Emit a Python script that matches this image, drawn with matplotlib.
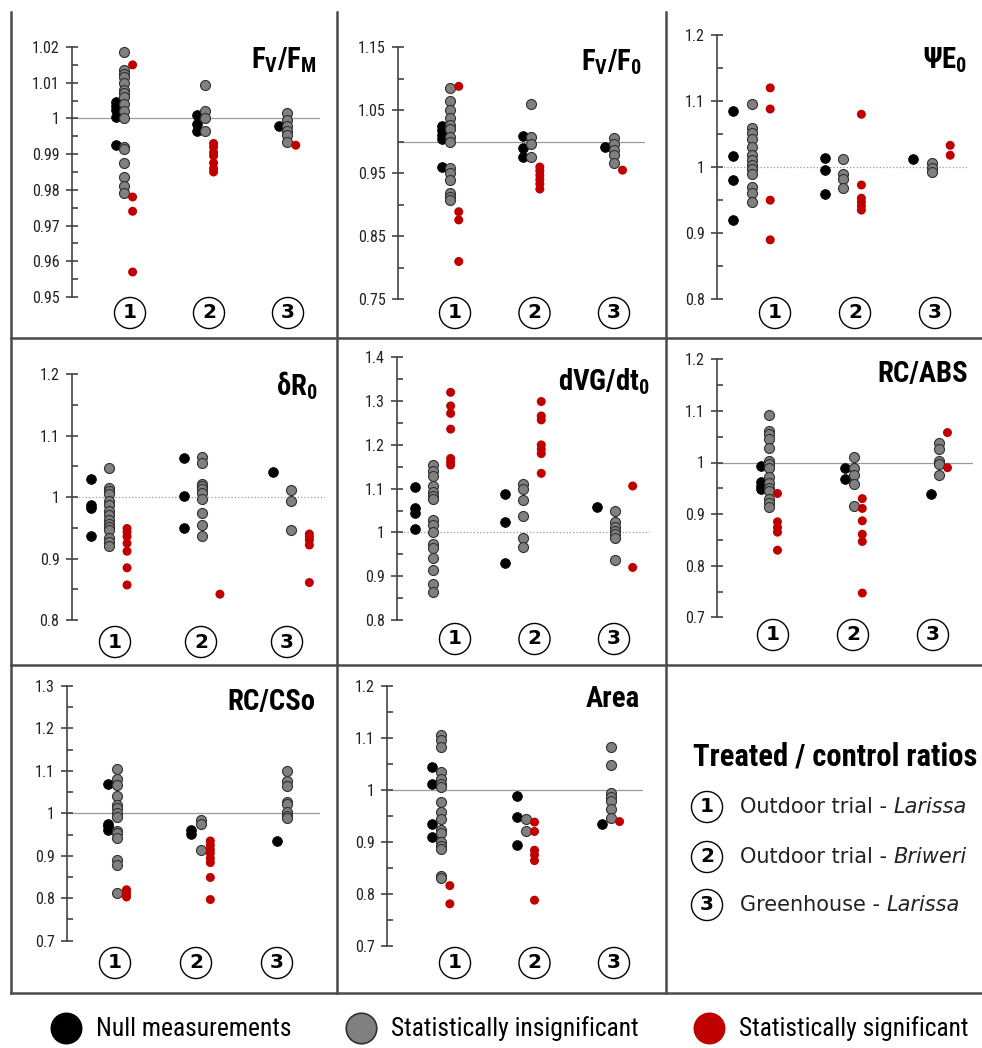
import matplotlib
matplotlib.use("Agg")
import matplotlib.pyplot as plt
import matplotlib.font_manager as fm
import matplotlib.transforms as mtransforms
from matplotlib.lines import Line2D
from matplotlib.text import Annotation
import numpy as np

W, H = 982, 1048

sites = ["1", "2", "3"]
site_names = ["Outdoor trial - ", "Outdoor trial - ", "Greenhouse - "]
site_places = ["Larissa", "Briweri", "Larissa"]
classes = ["Null measurements", "Statistically insignificant", "Statistically significant"]

# values per site: [site1, site2, site3]
fvfm_null = [[1.0045, 1.0035, 1.0025, 1.0005, 0.9925], [1.001, 0.9985, 0.9965], [0.998]]
fvfm_insig = [[1.0185, 1.0135, 1.0125, 1.0115, 1.01, 1.008, 1.007, 1.006, 1.004, 1.002, 1.0,
               0.992, 0.9915, 0.9875, 0.9835, 0.981, 0.979],
              [1.0095, 1.002, 1.0, 0.9965], [1.0015, 0.9995, 0.998, 0.9965, 0.9955, 0.9935]]
fvfm_sig = [[1.015, 0.978, 0.974, 0.957], [0.993, 0.992, 0.9905, 0.9895, 0.9875, 0.986, 0.985], [0.9925]]

fvfo_null = [[1.025, 1.018, 1.011, 1.005, 0.96], [1.009, 0.99, 0.976], [0.991]]
fvfo_insig = [[1.085, 1.065, 1.05, 1.038, 1.027, 1.02, 1.008, 0.999, 0.958, 0.951, 0.94, 0.919, 0.913, 0.908],
              [1.06, 1.008, 0.996, 0.976], [1.0065, 0.9965, 0.987, 0.979, 0.967]]
fvfo_sig = [[1.088, 0.889, 0.876, 0.81], [0.96, 0.954, 0.947, 0.94, 0.933, 0.925], [0.955]]

psie_null = [[1.085, 1.017, 0.98, 0.92], [1.014, 0.996, 0.959], [1.012]]
psie_insig = [[1.095, 1.06, 1.052, 1.042, 1.031, 1.018, 1.011, 1.003, 0.997, 0.99, 0.97, 0.961, 0.948],
              [1.012, 0.99, 0.982, 0.968], [1.006, 0.998, 0.992]]
psie_sig = [[1.12, 1.088, 0.95, 0.89], [1.08, 0.973, 0.953, 0.947, 0.941, 0.935], [1.033, 1.018]]

dr_null = [[1.03, 0.988, 0.982, 0.936], [1.064, 1.002, 0.949], [1.041]]
dr_insig = [[1.048, 1.015, 1.01, 1.005, 0.993, 0.987, 0.977, 0.971, 0.963, 0.957, 0.952, 0.947, 0.934, 0.927, 0.921],
            [1.066, 1.055, 1.022, 1.018, 1.013, 1.006, 0.997, 0.974, 0.955, 0.937], [1.011, 0.993, 0.946]]
dr_sig = [[0.949, 0.943, 0.936, 0.925, 0.912, 0.885, 0.857], [0.842], [0.94, 0.935, 0.93, 0.922, 0.861]]

dvg_null = [[1.103, 1.055, 1.045, 1.008], [1.088, 1.023, 0.931], [1.059]]
dvg_insig = [[1.155, 1.14, 1.13, 1.105, 1.093, 1.084, 1.077, 1.028, 1.018, 1.002, 0.973, 0.964, 0.942, 0.914,
              0.883, 0.865],
             [1.11, 1.1, 1.073, 1.037, 0.988, 0.967], [1.049, 1.023, 1.013, 1.003, 0.996, 0.987, 0.936]]
dvg_sig = [[1.32, 1.289, 1.272, 1.236, 1.169, 1.161, 1.154], [1.299, 1.266, 1.257, 1.2, 1.19, 1.18, 1.135],
           [1.106, 0.92]]

rcabs_null = [[0.993, 0.962, 0.955, 0.949], [0.99, 0.968], [0.939]]
rcabs_insig = [[1.093, 1.061, 1.055, 1.045, 1.029, 1.003, 0.997, 0.989, 0.971, 0.96, 0.951, 0.944, 0.929, 0.921, 0.914],
               [1.011, 0.989, 0.976, 0.958, 0.916], [1.037, 1.026, 1.003, 0.997, 0.975]]
rcabs_sig = [[0.94, 0.885, 0.874, 0.865, 0.83], [0.93, 0.911, 0.887, 0.861, 0.847, 0.747], [1.058, 0.99]]

rccs_null = [[1.068, 0.976, 0.97, 0.961], [0.961, 0.951], [0.935]]
rccs_insig = [[1.104, 1.08, 1.067, 1.041, 1.02, 1.012, 1.002, 0.992, 0.958, 0.953, 0.941, 0.89, 0.878, 0.813],
              [0.984, 0.976, 0.914], [1.1, 1.077, 1.064, 1.027, 1.022, 1.004, 0.994, 0.988]]
rccs_sig = [[0.82, 0.814, 0.808, 0.803], [0.935, 0.925, 0.915, 0.906, 0.894, 0.884, 0.849, 0.797], []]

area_null = [[1.044, 1.012, 0.934, 0.909], [0.988, 0.948, 0.894], [0.934]]
area_insig = [[1.105, 1.096, 1.082, 1.035, 1.02, 1.012, 1.006, 0.977, 0.958, 0.944, 0.923, 0.918, 0.9, 0.892,
               0.886, 0.834, 0.83],
              [0.943, 0.92], [1.082, 1.048, 0.993, 0.987, 0.979, 0.964, 0.945]]
area_sig = [[0.816, 0.781], [0.938, 0.92, 0.884, 0.875, 0.864, 0.788], [0.939]]

# pick a narrow font if there is one
names = {f.name for f in fm.fontManager.ttflist}
narrow, scale = "DejaVu Sans", 0.75
for cand, sc in [("Liberation Sans Narrow", 1.0), ("Roboto Condensed", 0.92)]:
    if cand in names:
        narrow, scale = cand, sc
        break

plt.rcParams["mathtext.fontset"] = "custom"
plt.rcParams["mathtext.rm"] = narrow
plt.rcParams["mathtext.bf"] = narrow + ":bold"
plt.rcParams["mathtext.it"] = narrow + ":italic"

# layout in pixels: spine x, right end, y px of top / bottom limit, label x of site 1 / 3, label y,
# column shift per site, column spread, title anchor
panels = [
    dict(title=r"$\mathbf{F_V/F_M}$", data=(fvfm_null, fvfm_insig, fvfm_sig), lim=(0.95, 1.02, 0.01), ls="-",
         px=(72, 320, 47, 297), lab=(130, 288, 313), shift=(-0.075, -0.05, -0.01), spread=0.108, tpos=(317, 68)),
    dict(title=r"$\mathbf{F_V/F_0}$", data=(fvfo_null, fvfo_insig, fvfo_sig), lim=(0.75, 1.15, 0.1), ls="-",
         px=(398, 645, 47.3, 299.3), lab=(455, 614, 313), shift=(-0.06, -0.04, 0.0), spread=0.107, tpos=(642, 70)),
    dict(title=r"$\mathbf{\Psi E_0}$", data=(psie_null, psie_insig, psie_sig), lim=(0.8, 1.2, 0.1), ls=":",
         px=(717, 968, 35, 299.3), lab=(775, 935, 313), shift=(-0.29, -0.15, -0.04), spread=0.23, tpos=(967, 68)),
    dict(title=r"$\mathbf{\delta R_0}$", data=(dr_null, dr_insig, dr_sig), lim=(0.8, 1.2, 0.1), ls=":",
         px=(72, 325, 374.3, 620), lab=(115, 287, 642), shift=(-0.07, 0.01, 0.05), spread=0.21, tpos=(318, 395)),
    dict(title=r"$\mathbf{dVG/dt_0}$", data=(dvg_null, dvg_insig, dvg_sig), lim=(0.8, 1.4, 0.1), ls=":",
         px=(397, 650, 357.3, 620), lab=(455, 614, 639), shift=(-0.28, -0.14, 0.01), spread=0.225, tpos=(650, 390)),
    dict(title="RC/ABS", data=(rcabs_null, rcabs_insig, rcabs_sig), lim=(0.7, 1.2, 0.1), ls="-",
         px=(717, 973, 359.3, 617.3), lab=(773, 933, 635), shift=(-0.05, 0.01, 0.075), spread=0.106, tpos=(968, 382)),
    dict(title="RC/CSo", data=(rccs_null, rccs_insig, rccs_sig), lim=(0.7, 1.3, 0.1), ls="-",
         px=(67, 320, 686, 940.7), lab=(115, 277, 963), shift=(0.025, 0.06, 0.12), spread=0.117, tpos=(315, 710)),
    dict(title="Area", data=(area_null, area_insig, area_sig), lim=(0.7, 1.2, 0.1), ls="-",
         px=(387, 643, 685.7, 946), lab=(455, 614, 963), shift=(-0.175, -0.11, -0.04), spread=0.11, tpos=(640, 707)),
]

styles = [
    dict(s=50, c="black", edgecolors="black", linewidths=0.5),
    dict(s=52, c="#808080", edgecolors="#303030", linewidths=0.8),
    dict(s=42, c="#c00000", edgecolors="none"),
]
circle_box = dict(boxstyle="circle,pad=0.3", fc="white", ec="black", lw=1.0)

fig = plt.figure(figsize=(W / 100, H / 100), dpi=100)
fig.patch.set_facecolor("white")

for p in panels:
    sx, rx, ty, by = p["px"]
    l1, l3, ly = p["lab"]
    ax = fig.add_axes([sx / W, 1 - by / H, (rx - sx) / W, (by - ty) / H])
    unit = (l3 - l1) / 2
    ax.set_xlim(1 - (l1 - sx) / unit, 3 + (rx - l3) / unit)
    ymin, ymax, step = p["lim"]
    ax.set_ylim(ymin, ymax)
    n = int(round((ymax - ymin) / step))
    major = [round(ymin + i * step, 3) for i in range(n + 1)]
    minor = [round(ymin + (i + 0.5) * step, 4) for i in range(n)]
    ax.set_yticks(major)
    ax.set_yticks(minor, minor=True)
    ax.set_yticklabels([f"{v:g}" for v in major])
    ax.set_xticks([])
    for side in ["top", "right", "bottom"]:
        ax.spines[side].set_visible(False)
    ax.spines["left"].set_color("#444444")
    ax.spines["left"].set_linewidth(1.2)
    ax.tick_params(axis="y", which="major", direction="inout", length=8, width=1.2, color="#444444",
                   labelsize=12.5 * scale, labelcolor="#222222", pad=5)
    ax.tick_params(axis="y", which="minor", direction="in", length=4, width=1.2, color="#444444")
    for lab in ax.get_yticklabels():
        lab.set_fontfamily(narrow)
    ax.patch.set_visible(False)

    ax.axhline(1, color="#9a9a9a", lw=0.9, ls=p["ls"], zorder=1)

    for k, (vals, st) in enumerate(zip(p["data"], styles)):
        for i, v in enumerate(vals):
            if len(v) == 0:
                continue
            x = np.full(len(v), i + 1 + p["shift"][i] + (k - 1) * p["spread"])
            ax.scatter(x, v, zorder=3 + k, clip_on=False, **st)

    tr = mtransforms.blended_transform_factory(ax.transData, fig.transFigure)
    for i, s in enumerate(sites):
        ax.text(i + 1, 1 - ly / H, s, transform=tr, ha="center", va="center", fontsize=14.5,
                fontweight="bold", bbox=circle_box)

    tx, tyy = p["tpos"]
    fig.text(tx / W, 1 - tyy / H, p["title"], ha="right", va="baseline", fontsize=22.5 * scale,
             fontweight="bold", family=narrow)

# panel frames
for x in [11, 337, 666]:
    fig.add_artist(Line2D([x / W, x / W], [1 - 12 / H, 1 - 993 / H], color="#4a4a4a", lw=1.8))
for y in [338, 665, 993]:
    fig.add_artist(Line2D([11 / W, 1], [1 - y / H, 1 - y / H], color="#4a4a4a", lw=1.8))

# site key in the empty panel
fig.text(693 / W, 1 - 766 / H, "Treated / control ratios", fontsize=24 * scale, fontweight="bold",
         family=narrow, va="baseline")
for i, yy in enumerate([807, 857, 905]):
    fig.text(707 / W, 1 - yy / H, sites[i], ha="center", va="center", fontsize=14.5, fontweight="bold",
             bbox=circle_box)
    t = fig.text(740 / W, 1 - yy / H, site_names[i], ha="left", va="center", fontsize=15, color="#222222")
    fig.add_artist(Annotation(site_places[i], xy=(1, 0), xycoords=t, ha="left", va="bottom", fontsize=15,
                              style="italic", color="#222222"))

# class key
handles = [
    Line2D([], [], ls="", marker="o", ms=22, mfc="black", mec="black"),
    Line2D([], [], ls="", marker="o", ms=22, mfc="#808080", mec="#303030", mew=1.2),
    Line2D([], [], ls="", marker="o", ms=22, mfc="#c00000", mec="#c00000"),
]
fig.legend(handles, classes, loc="center", bbox_to_anchor=(508 / W, 1 - 1029 / H), ncol=3, frameon=False,
           prop={"family": narrow, "size": 20 * scale}, handlelength=1.45, handletextpad=0.45,
           columnspacing=2.0, borderaxespad=0)

fig.savefig("out.png", dpi=100, facecolor="white")
